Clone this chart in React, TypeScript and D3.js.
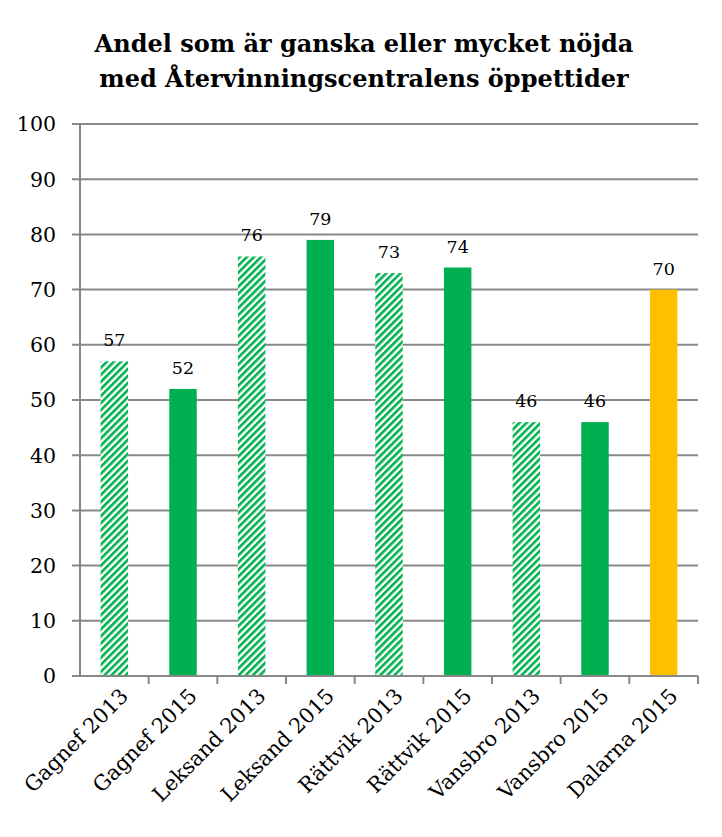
import React from "react";
import * as d3 from "d3";

const categories = ["Gagnef 2013", "Gagnef 2015", "Leksand 2013", "Leksand 2015", "Rättvik 2013", "Rättvik 2015", "Vansbro 2013", "Vansbro 2015", "Dalarna 2015"];
const values = [57, 52, 76, 79, 73, 74, 46, 46, 70];
const kinds = ["hatch", "solid", "hatch", "solid", "hatch", "solid", "hatch", "solid", "yellow"];
const yTicks = [0, 10, 20, 30, 40, 50, 60, 70, 80, 90, 100];
const titleLines = ["Andel som är ganska eller mycket nöjda", "med Återvinningscentralens öppettider"];

const W = 722, H = 837;
const left = 80, right = 698, top = 124, bottom = 676;
const font = "'DejaVu Serif', serif";
const titleFont = "'DejaVu Serif', serif";

export default function App() {
  const x = d3.scaleBand<string>().domain(categories).range([left, right]).paddingInner(0.6).paddingOuter(0.3);
  const xb = d3.scaleBand<string>().domain(categories).range([left, right]);
  const y = d3.scaleLinear().domain([0, 100]).range([bottom, top]);
  const fill = (k: string) => (k === "hatch" ? "url(#hatch)" : k === "yellow" ? "#FFC000" : "#00B050");
  return (
    <svg width={W} height={H} style={{ position: "absolute", left: 0, top: 0 }} fontFamily={font}>
      <defs>
        <pattern id="hatch" patternUnits="userSpaceOnUse" width="5" height="5" patternTransform="rotate(45)">
          <rect width="5" height="5" fill="#fff" />
          <rect width="2.6" height="5" fill="#00B050" />
        </pattern>
      </defs>
      <rect width={W} height={H} fill="#fff" />
      {titleLines.map((t, i) => (
        <text key={i} x={364} y={52 + i * 35} textAnchor="middle" fontSize={24} fontWeight="bold" fontFamily={titleFont} fill="#000">{t}</text>
      ))}
      {yTicks.map((t) => (
        <g key={t}>
          <line x1={left - 8} x2={t === 0 ? left : right} y1={y(t)} y2={y(t)} stroke="#888" strokeWidth={2} />
          <text x={left - 24} y={y(t)} dy="0.36em" textAnchor="end" fontSize={20.5} fill="#000">{t}</text>
        </g>
      ))}
      {categories.map((c, i) => (
        <rect key={c} x={x(c)} y={y(values[i])} width={x.bandwidth()} height={y(0) - y(values[i])} fill={fill(kinds[i])} />
      ))}
      <line x1={left} x2={left} y1={top} y2={bottom} stroke="#888" strokeWidth={2} />
      <line x1={left - 8} x2={right} y1={bottom} y2={bottom} stroke="#888" strokeWidth={2} />
      {categories.map((c) => (
        <line key={"t" + c} x1={(xb(c) as number) + xb.bandwidth()} x2={(xb(c) as number) + xb.bandwidth()} y1={bottom} y2={bottom + 8} stroke="#888" strokeWidth={2} />
      ))}
      {categories.map((c, i) => (
        <text key={"v" + c} x={(x(c) as number) + x.bandwidth() / 2} y={y(values[i]) - 15} textAnchor="middle" fontSize={17.5} fill="#000">{values[i]}</text>
      ))}
      {categories.map((c) => {
        const cx = (xb(c) as number) + xb.bandwidth() / 2 + 10;
        return (
          <text key={"l" + c} transform={`translate(${cx},${bottom + 16}) rotate(-45)`} textAnchor="end" dy="0.35em" fontSize={21} fill="#000">{c}</text>
        );
      })}
    </svg>
  );
}
